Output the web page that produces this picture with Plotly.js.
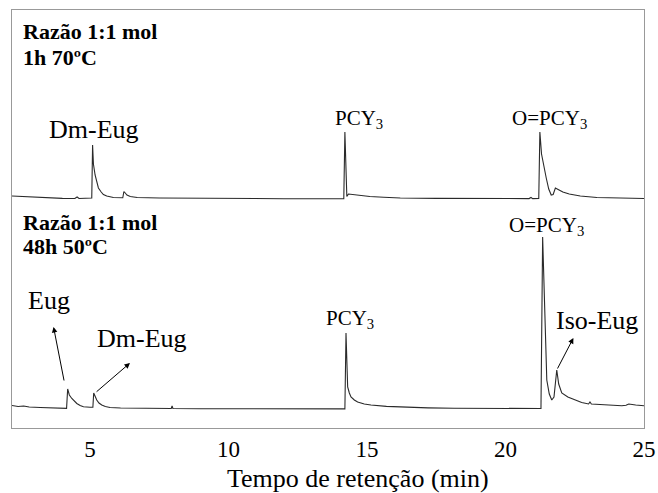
<!DOCTYPE html>
<html><head><meta charset="utf-8">
<script src="https://cdn.plot.ly/plotly-3.0.1.min.js"></script>
<style>html,body{margin:0;padding:0;background:#fff}</style>
</head><body><div id="chart" style="width:658px;height:493px"></div>
<script>
// Upper chromatogram: Razão 1:1 mol, 1h 70ºC
const timeTop = [2.18,2.5,3.0,3.5,4.0,4.45,4.53,4.6,5.02,5.06,5.09,5.12,5.18,5.24,5.3,5.4,5.48,5.6,5.84,6.18,6.22,6.27,6.33,6.45,6.7,7.5,8.5,10,12,13.5,14.16,14.2,14.24,14.27,14.33,14.45,14.7,15.1,15.6,16.2,17.5,19,20.85,20.92,20.98,21.2,21.24,21.3,21.35,21.47,21.56,21.65,21.72,21.8,21.9,22.07,22.3,22.7,23.3,23.9,24.5,25];
const signalTop = [3,2.5,1.5,1,0.6,0.5,2,0.5,0.5,1,54,35,24,16,11,7,4.5,3,1.5,1.2,7.5,6,4,2.5,1.5,1,0.7,0.5,0.3,0.2,0.2,67,20,2.5,5,4.5,3.5,2.5,1.7,1,0.6,0.4,0.4,1.5,0.4,0.5,67,45,37,21,10,4,4.5,11,9.5,7,5,3,1.5,1,0.6,0.5];
// Lower chromatogram: Razão 1:1 mol, 48h 50ºC
const timeBottom = [2.18,2.4,2.6,2.8,3.2,3.6,4.0,4.15,4.19,4.25,4.34,4.43,4.52,4.64,4.76,5.0,5.1,5.13,5.18,5.24,5.32,5.42,5.55,5.72,6.1,6.56,7.5,7.93,7.96,7.99,9,11,13,14.2,14.24,14.28,14.3,14.36,14.42,14.54,14.66,14.9,15.14,15.7,16.34,17.2,18.15,19.5,21.18,21.28,21.34,21.4,21.45,21.49,21.58,21.67,21.75,21.85,21.92,22.03,22.25,22.51,22.75,23.0,23.05,23.1,23.6,24.2,24.35,24.45,24.7,25];
const signalBottom = [3.5,2.5,3,2,1.5,1,0.6,0.6,20,14,10.5,7.5,5.5,3.5,2.2,1.8,1.8,16,12,9,6,4,2.5,1.5,1,0.8,0.5,0.5,3,0.5,0.3,0.2,0.1,0.1,76,40,22,16,12,9,7,5,4,2.6,1.7,1.1,0.7,0.3,0,0.5,172,110,55,29,15,9,12,39,25,16,12,9,6.5,5,7,5,4,3.3,3.8,5,4,3.3];
const xTickValues = [5,10,15,20,25];
const xTickLabels = ['5','10','15','20','25'];
const xTitle = 'Tempo de retenção (min)';

const offsetTop = 229, offsetBottom = 19;
const serif = '"Liberation Serif", "Times New Roman", serif';

const traces = [
  {x: timeTop, y: signalTop.map(v => v + offsetTop), mode: 'lines', line: {color: '#2a2a2a', width: 1.1}, hoverinfo: 'skip'},
  {x: timeBottom, y: signalBottom.map(v => v + offsetBottom), mode: 'lines', line: {color: '#2a2a2a', width: 1.1}, hoverinfo: 'skip'}
];

function label(text, x, y, size, opts) {
  return Object.assign({text: text, x: x, y: y, xref: 'x', yref: 'y', showarrow: false,
    font: {family: serif, size: size, color: '#000'}}, opts || {});
}
function arrow(xHead, yHead, xTail, yTail) {
  return {text: '', x: xHead, y: yHead, ax: xTail, ay: yTail, xref: 'x', yref: 'y', axref: 'x', ayref: 'y',
    showarrow: true, arrowhead: 2, arrowsize: 1.1, arrowwidth: 1, arrowcolor: '#000'};
}

const annotations = [
  label('<b>Razão 1:1 mol</b>', 2.5, 397, 22, {xanchor: 'left'}),
  label('<b>1h 70ºC</b>', 2.5, 371, 22, {xanchor: 'left'}),
  label('Dm-Eug', 5.13, 299, 26),
  label('PCY<sub>3</sub>', 14.71, 309, 21),
  label('O=PCY<sub>3</sub>', 21.59, 309, 21),
  label('<b>Razão 1:1 mol</b>', 2.5, 206, 22, {xanchor: 'left'}),
  label('<b>48h 50ºC</b>', 2.5, 182, 22, {xanchor: 'left'}),
  label('Eug', 3.5, 128, 26),
  label('Dm-Eug', 6.86, 90, 26),
  label('PCY<sub>3</sub>', 14.39, 109, 21),
  label('O=PCY<sub>3</sub>', 21.48, 202, 21),
  label('Iso-Eug', 23.3, 108, 26),
  arrow(3.68, 101, 4.07, 46),
  arrow(6.44, 65, 5.18, 35),
  arrow(22.45, 90, 21.85, 58),
  {text: xTitle, xref: 'paper', yref: 'paper', x: 0.547, y: -0.12, xanchor: 'center', yanchor: 'middle',
   showarrow: false, font: {family: serif, size: 26, color: '#000'}}
];

const layout = {
  width: 658, height: 493,
  margin: {l: 12, r: 14, t: 10, b: 65},
  paper_bgcolor: '#fff', plot_bgcolor: '#fff',
  showlegend: false,
  font: {family: serif, color: '#000'},
  xaxis: {
    range: [2.18, 25], tickvals: xTickValues, ticktext: xTickLabels,
    showline: true, mirror: true, linecolor: '#999', linewidth: 1,
    showgrid: false, zeroline: false, ticks: '',
    tickfont: {family: serif, size: 23, color: '#000'}
  },
  yaxis: {
    range: [0, 418], showticklabels: false, ticks: '',
    showline: true, mirror: true, linecolor: '#999', linewidth: 1,
    showgrid: false, zeroline: false
  },
  annotations: annotations
};

Plotly.newPlot('chart', traces, layout, {staticPlot: true, displayModeBar: false});
</script>
</body></html>
